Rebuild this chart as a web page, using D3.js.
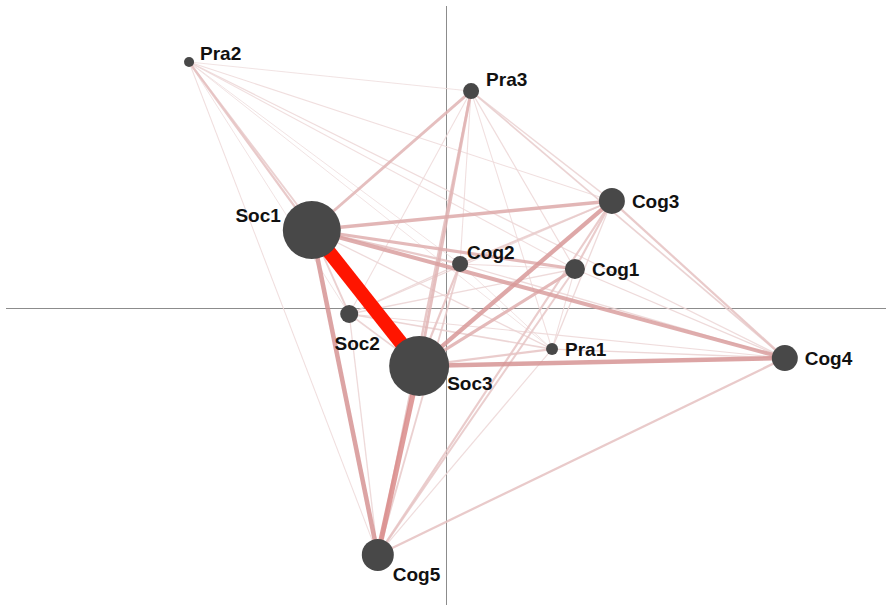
<!DOCTYPE html>
<html>
<head>
<meta charset="utf-8">
<script src="https://cdn.jsdelivr.net/npm/d3@7"></script>
<style>
  html, body { margin: 0; padding: 0; background: #fff; }
  svg { display: block; }
  text { font-family: "Liberation Sans", Arial, sans-serif; font-weight: bold; }
</style>
</head>
<body>
<svg id="chart" width="886" height="605"></svg>
<script>
// Items of the network, their layout coordinates and node strength
const nodeNames = ["Soc1", "Soc2", "Soc3", "Cog1", "Cog2", "Cog3", "Cog4", "Cog5", "Pra1", "Pra2", "Pra3"];
const nodeX = [-0.305, -0.220, -0.061, 0.293, 0.032, 0.377, 0.770, -0.155, 0.241, -0.584, 0.057];
const nodeY = [0.260, -0.020, -0.193, 0.130, 0.147, 0.357, -0.167, -0.823, -0.137, 0.820, 0.723];
const nodeStrength = [29, 9, 30, 10, 8, 13, 13, 16, 6, 5, 8];

// Edge list: source, target, weight
const edgeSource = [
  "Soc1","Soc1","Soc1","Soc1","Soc1","Soc1","Soc1","Soc1","Soc1","Soc1",
  "Soc2","Soc2","Soc2","Soc2","Soc2","Soc2","Soc2","Soc2","Soc2",
  "Soc3","Soc3","Soc3","Soc3","Soc3","Soc3","Soc3","Soc3",
  "Cog1","Cog1","Cog1","Cog1","Cog1","Cog1","Cog1",
  "Cog2","Cog2","Cog2","Cog2","Cog2","Cog2",
  "Cog3","Cog3","Cog3","Cog3","Cog3",
  "Cog4","Cog4","Cog4","Cog4",
  "Cog5","Cog5","Cog5",
  "Pra1","Pra1",
  "Pra2"
];
const edgeTarget = [
  "Soc2","Soc3","Cog1","Cog2","Cog3","Cog4","Cog5","Pra1","Pra2","Pra3",
  "Soc3","Cog1","Cog2","Cog3","Cog4","Cog5","Pra1","Pra2","Pra3",
  "Cog1","Cog2","Cog3","Cog4","Cog5","Pra1","Pra2","Pra3",
  "Cog2","Cog3","Cog4","Cog5","Pra1","Pra2","Pra3",
  "Cog3","Cog4","Cog5","Pra1","Pra2","Pra3",
  "Cog4","Cog5","Pra1","Pra2","Pra3",
  "Cog5","Pra1","Pra2","Pra3",
  "Pra1","Pra2","Pra3",
  "Pra2","Pra3",
  "Pra3"
];
const edgeWeight = [
  0.10, 1.00, 0.20, 0.13, 0.22, 0.26, 0.30, 0.06, 0.13, 0.18,
  0.08, 0.06, 0.06, 0.06, 0.05, 0.06, 0.08, 0.03, 0.04,
  0.20, 0.13, 0.28, 0.30, 0.35, 0.12, 0.10, 0.18,
  0.04, 0.12, 0.06, 0.11, 0.04, 0.04, 0.05,
  0.10, 0.06, 0.10, 0.03, 0.03, 0.04,
  0.13, 0.12, 0.06, 0.04, 0.07,
  0.13, 0.07, 0.05, 0.09,
  0.05, 0.04, 0.14,
  0.03, 0.04,
  0.03
];

const W = 886, H = 605;
const svg = d3.select("#chart");

const x = d3.scaleLinear().domain([-1, 1]).range([6, 886]);
const y = d3.scaleLinear().domain([-1, 1]).range([608, 8]);
const radius = d3.scaleLinear().domain([0, 30]).range([0, 30]);
const edgeWidth = d3.scaleLinear().domain([0, 1]).range([0.5, 14]);
const edgeColor = d3.scaleLinear()
  .domain([0, 0.3, 1])
  .range(["#f0e3e3", "#d69494", "#ff1500"])
  .interpolate(d3.interpolateRgb);

const nodes = nodeNames.map((name, i) => ({ name, x: nodeX[i], y: nodeY[i], s: nodeStrength[i] }));
const byName = new Map(nodes.map(n => [n.name, n]));
const edges = edgeSource.map((s, i) => ({ s: byName.get(s), t: byName.get(edgeTarget[i]), w: edgeWeight[i] }))
  .sort((a, b) => a.w - b.w);

// Cross-hair axes through the origin
const ax = svg.append("g").attr("stroke", "#8c8c8c").attr("stroke-width", 1);
ax.append("line").attr("x1", x(-1)).attr("x2", x(1)).attr("y1", y(0) + 0.5).attr("y2", y(0) + 0.5);
ax.append("line").attr("x1", x(0) + 0.5).attr("x2", x(0) + 0.5).attr("y1", 6).attr("y2", H);

// Edges, weakest first so stronger ones sit on top
svg.append("g").selectAll("line").data(edges).join("line")
  .attr("x1", d => x(d.s.x)).attr("y1", d => y(d.s.y))
  .attr("x2", d => x(d.t.x)).attr("y2", d => y(d.t.y))
  .attr("stroke", d => edgeColor(d.w))
  .attr("stroke-width", d => edgeWidth(d.w))
  .attr("stroke-opacity", d => d.w >= 0.9 ? 1 : 0.85);

// Nodes
svg.append("g").selectAll("circle").data(nodes).join("circle")
  .attr("cx", d => x(d.x)).attr("cy", d => y(d.y))
  .attr("r", d => radius(d.s))
  .attr("fill", "#484848");

// Label placement relative to each node
const labelPlace = {
  Soc1: { dx: -2, dy: -8, anchor: "end", useR: true },
  Soc2: { dx: 8, dy: 36, anchor: "middle" },
  Soc3: { dx: 28, dy: 24, anchor: "start" },
  Cog5: { dx: 15, dy: 26, anchor: "start" },
  Cog2: { dx: 7, dy: -5, anchor: "start" },
  Pra2: { dx: 11, dy: -2, anchor: "start" },
  Pra3: { dx: 15, dy: -5, anchor: "start" }
};
svg.append("g").selectAll("text").data(nodes).join("text")
  .attr("x", d => {
    const p = labelPlace[d.name];
    if (!p) return x(d.x) + radius(d.s) + 7;
    return x(d.x) + (p.useR ? -radius(d.s) + p.dx : p.dx);
  })
  .attr("y", d => {
    const p = labelPlace[d.name];
    return y(d.y) + (p ? p.dy : 7);
  })
  .attr("text-anchor", d => (labelPlace[d.name] || {}).anchor || "start")
  .attr("font-size", 19)
  .attr("fill", "#111")
  .text(d => d.name);
</script>
</body>
</html>
